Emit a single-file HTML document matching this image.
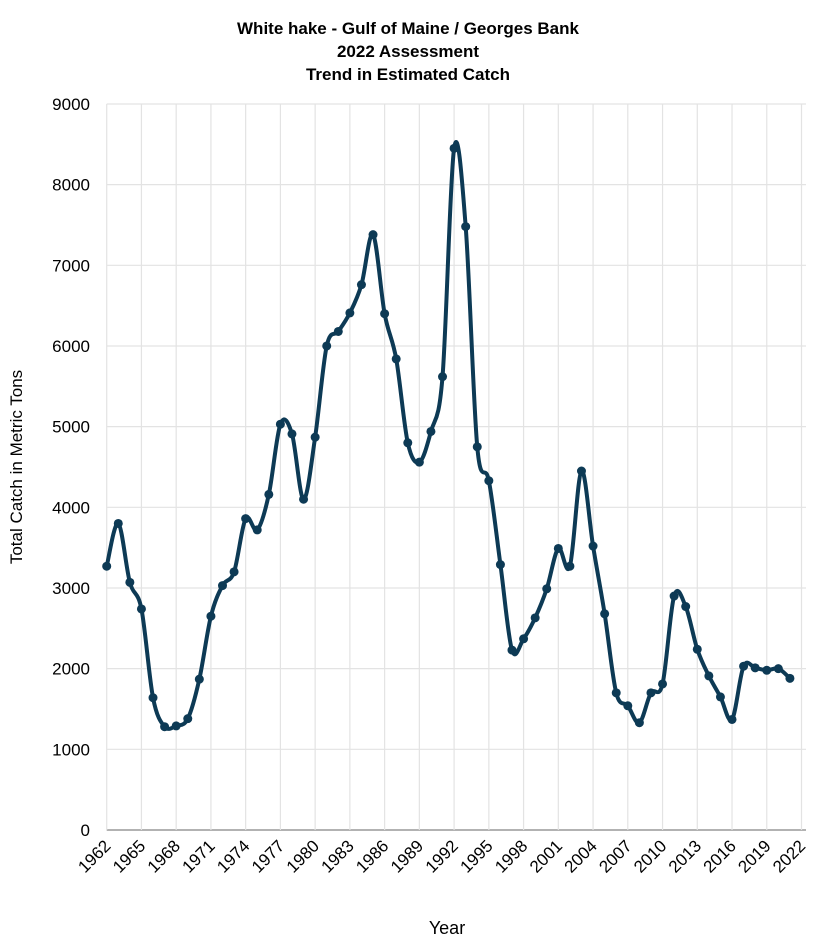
<!DOCTYPE html>
<html><head><meta charset="utf-8"><style>
body{margin:0;background:#fff;}
svg{display:block;font-family:"Liberation Sans",Arial,sans-serif;}
</style></head><body>
<svg id="s" width="813" height="947" xmlns="http://www.w3.org/2000/svg">
<rect width="813" height="947" fill="#fff"/>
<g font-weight="bold" font-size="17" text-anchor="middle" fill="#000">
<text x="408" y="34">White hake - Gulf of Maine / Georges Bank</text>
<text x="408" y="57">2022 Assessment</text>
<text x="408" y="80">Trend in Estimated Catch</text>
</g>
<g id="grid"></g>
<path id="line" fill="none" stroke="#0d3a55" stroke-width="4" stroke-linejoin="round"/>
<g id="pts" fill="#0d3a55"></g>
<text x="447" y="934" font-size="18" text-anchor="middle">Year</text>
<text transform="translate(22,467) rotate(-90)" font-size="17" text-anchor="middle">Total Catch in Metric Tons</text>
</svg>
<script>
var d=[3270,3800,3070,2740,1640,1280,1290,1380,1870,2650,3030,3200,3860,3720,4160,5030,4910,4100,4870,6000,6180,6410,6760,7380,6400,5840,4800,4560,4940,5620,8450,7480,4750,4330,3290,2230,2370,2630,2990,3490,3270,4450,3520,2680,1700,1540,1330,1700,1810,2900,2770,2240,1910,1650,1370,2030,2010,1980,2000,1880];
var x0=106.7,px=11.58,y0=830,py=0.08067;
function X(i){return x0+i*px}function Y(v){return y0-v*py}
var g='';
for(var k=0;k<=9;k++){var y=Y(k*1000);g+='<line x1="'+x0+'" x2="806" y1="'+y+'" y2="'+y+'" stroke="'+(k==0?'#999':'#e3e3e3')+'" stroke-width="'+(k==0?1.5:1.2)+'"/>';
g+='<text x="90" y="'+(y+6)+'" font-size="17" text-anchor="end">'+(k*1000)+'</text>';}
for(var yr=1962;yr<=2022;yr+=3){var x=X(yr-1962);g+='<line x1="'+x+'" x2="'+x+'" y1="104" y2="830" stroke="#e3e3e3" stroke-width="1.2"/>';
g+='<text transform="translate('+(x+5)+',847) rotate(-45)" font-size="17" text-anchor="end">'+yr+'</text>';}
document.getElementById('grid').innerHTML=g;
var P=d.map(function(v,i){return [X(i),Y(v)]});
var p='M'+P[0][0]+','+P[0][1];
for(var i=0;i<P.length-1;i++){var a=P[i-1]||P[i],b=P[i],c=P[i+1],e=P[i+2]||c,t=6;
p+=' C'+(b[0]+(c[0]-a[0])/t)+','+(b[1]+(c[1]-a[1])/t)+' '+(c[0]-(e[0]-b[0])/t)+','+(c[1]-(e[1]-b[1])/t)+' '+c[0]+','+c[1];}
document.getElementById('line').setAttribute('d',p);
var s='';P.forEach(function(q){s+='<circle cx="'+q[0]+'" cy="'+q[1]+'" r="4.5"/>'});
document.getElementById('pts').innerHTML=s;
</script>
</body></html>
